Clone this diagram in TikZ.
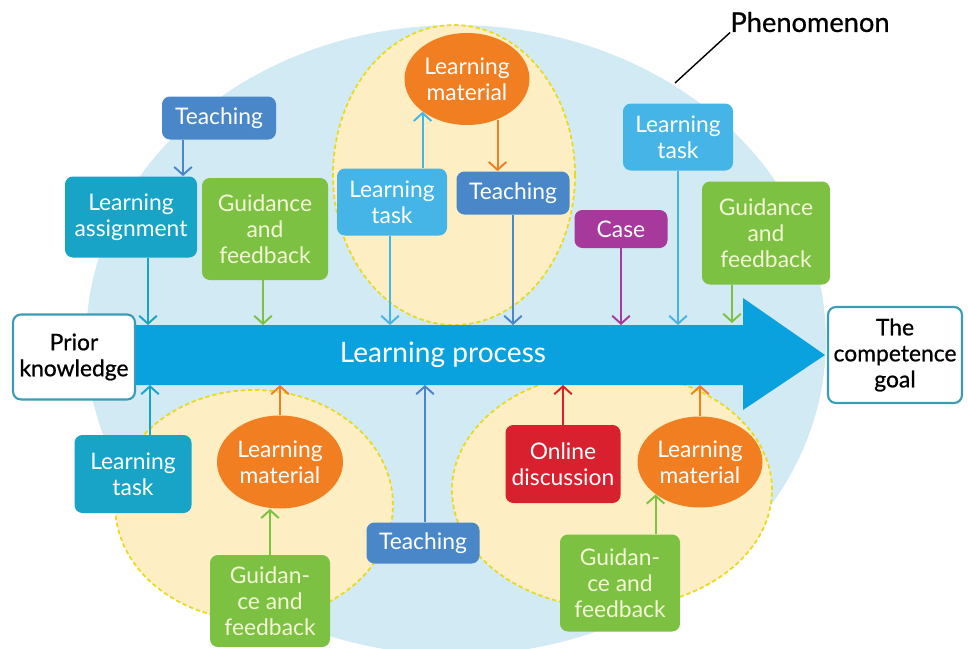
\documentclass[tikz,border=0pt]{standalone}
\usepackage{fontspec}
\setmainfont{Lato}
\newfontfamily\medfont[FakeBold=0.8]{Lato}
\usetikzlibrary{arrows.meta,shapes.geometric}

\definecolor{bgblue}{HTML}{D2EAF3}
\definecolor{barblue}{HTML}{0AA2DE}
\definecolor{ylwfill}{HTML}{FDEFC3}
\definecolor{ylwline}{HTML}{E9DA20}
\definecolor{tealbox}{HTML}{17A4C7}
\definecolor{midblue}{HTML}{4A87C8}
\definecolor{skyblue}{HTML}{45B4E7}
\definecolor{grnbox}{HTML}{7DC143}
\definecolor{grntext}{HTML}{F3F7D6}
\definecolor{orgbox}{HTML}{F27E22}
\definecolor{purbox}{HTML}{A6399B}
\definecolor{redbox}{HTML}{D8202F}
\definecolor{edgeteal}{HTML}{3A9DB5}

\tikzset{
  box/.style 2 args = {rectangle, rounded corners=4.5pt, inner sep=0pt, align=center,
    text=white, minimum width=#1*0.02cm, minimum height=#2*0.02cm,
    font=\fontsize{13}{14.8}\selectfont},
  oval/.style 2 args = {ellipse, fill=orgbox, inner sep=0pt, align=center, text=white,
    minimum width=#1*0.02cm, minimum height=#2*0.02cm,
    font=\fontsize{13}{14.8}\selectfont},
  endbox/.style = {fill=white, draw=edgeteal, line width=1.2pt, text=black,
    font=\medfont\fontsize{13}{14.8}\selectfont},
  guide/.style = {fill=grnbox, text=grntext},
  zone/.style = {fill=ylwfill, draw=ylwline, dash pattern=on 2.5pt off 1.6pt, line width=1pt},
  link/.style = {line width=1.1pt, -{Straight Barb[length=4.5pt,width=10pt]}}
}

\begin{document}
\begin{tikzpicture}[x=0.02cm, y=-0.02cm]
    \useasboundingbox (0,0) rectangle (968,649);

    % phenomenon and activity areas
    \begin{scope}
      \clip (0,0) rectangle (968,649);
      \fill[bgblue] (456,340) ellipse [x radius=7.4cm, y radius=6.3cm];
    \end{scope}
    \draw[zone] (454,175) ellipse [x radius=2.42cm, y radius=3cm];
    \draw[zone] (254,505) ellipse [x radius=2.78cm, y radius=2.3cm];
    \draw[zone] (612,490) ellipse [x radius=3.2cm, y radius=2.36cm];

    % learning process arrow
    \fill[barblue] (130,325) -- (743,325) -- (743,298) -- (825,355)
      -- (743,410) -- (743,385) -- (130,385) -- cycle;
    \coordinate (bartop) at (0,325);
    \coordinate (barbot) at (0,385);

    \node[box={122}{85}, endbox] (prior) at (74,357) {Prior\\knowledge};
    \node[box={134}{96}, endbox] (goal) at (895,355) {The\\competence\\goal};
    \node[text=white, font=\fontsize{16}{19}\selectfont] (proc) at (443,355) {Learning process};

    \node[inner sep=0pt, font=\medfont\fontsize{15.5}{18}\selectfont] (phen) at (810,22) {Phenomenon};
    \coordinate (rim) at (675,83);
    \draw[line width=0.8pt] (phen.south west) -- (rim);

    % above the process
    \node[box={114}{43}, fill=midblue] (teachA) at (219,118) {Teaching};
    \node[box={132}{81}, fill=tealbox] (assign) at (131,217) {Learning\\assignment};
    \node[box={126}{102}, guide] (guideA) at (265,229) {Guidance\\and\\feedback};
    \node[oval={125}{92}] (matA) at (467,79) {Learning\\material};
    \node[box={110}{67}, fill=skyblue] (taskA) at (392,202) {Learning\\task};
    \node[box={113}{43}, fill=midblue] (teachB) at (513,193) {Teaching};
    \node[box={93}{38}, fill=purbox] (case) at (621,229) {Case};
    \node[box={110}{67}, fill=skyblue] (taskB) at (678,137) {Learning\\task};
    \node[box={128}{103}, guide] (guideB) at (766,233) {Guidance\\and\\feedback};

    % below the process
    \node[box={117}{78}, fill=tealbox] (taskC) at (133,474) {Learning\\task};
    \node[oval={126}{93}] (matB) at (280,462) {Learning\\material};
    \node[box={120}{92}, guide] (guideC) at (270,601) {Guidan-\\ce and\\feedback};
    \node[box={113}{41}, fill=midblue] (teachC) at (423,543) {Teaching};
    \node[box={115}{78}, fill=redbox] (online) at (563,464) {Online\\discussion};
    \node[oval={125}{91}] (matC) at (700,462) {Learning\\material};
    \node[box={120}{97}, guide] (guideD) at (620,583) {Guidan-\\ce and\\feedback};

    \draw[link, midblue] (183,0 |- teachA.south) -- (183,0 |- assign.north);
    \draw[link, tealbox] (148,0 |- assign.south) -- (148,0 |- bartop);
    \draw[link, grnbox] (263,0 |- guideA.south) -- (263,0 |- bartop);
    \draw[link, skyblue] (taskA.north -| matA.south west) -- (matA.south west);
    \draw[link, skyblue] (390,0 |- taskA.south) -- (390,0 |- bartop);
    \draw[link, orgbox] (matA.-53) -- (matA.-53 |- teachB.north);
    \draw[link, midblue] (teachB.south) -- (teachB.south |- bartop);
    \draw[link, purbox] (case.south) -- (case.south |- bartop);
    \draw[link, skyblue] (taskB.south) -- (taskB.south |- bartop);
    \draw[link, grnbox] (732,0 |- guideB.south) -- (732,323);

    \draw[link, tealbox] (150,0 |- taskC.north) -- (150,0 |- barbot);
    \draw[link, orgbox] (matB.north) -- (matB.north |- barbot);
    \draw[link, grnbox] (270,0 |- guideC.north) -- (270,0 |- matB.south);
    \draw[link, midblue] (425,0 |- teachC.north) -- (425,0 |- barbot);
    \draw[link, redbox] (online.north) -- (online.north |- barbot);
    \draw[link, orgbox] (matC.north) -- (matC.north |- barbot);
    \draw[link, grnbox] (guideD.north -| matC.south west) -- (matC.south west);

\end{tikzpicture}
\end{document}
